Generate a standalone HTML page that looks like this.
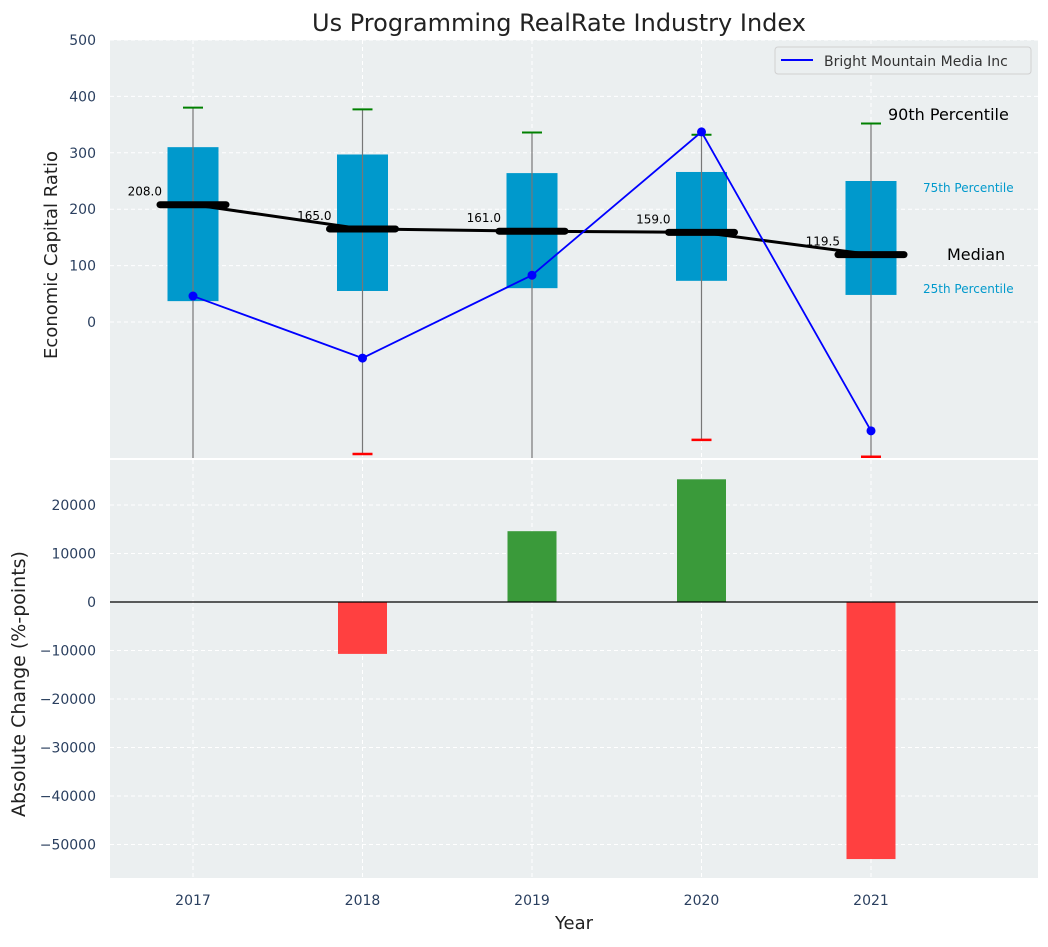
<!DOCTYPE html>
<html><head><meta charset="utf-8"><style>
body{margin:0;background:#fff;font-family:"Liberation Sans","DejaVu Sans",sans-serif}
svg text{font-family:"DejaVu Sans","Liberation Sans",sans-serif}
</style></head><body>
<svg id="c" width="1048" height="942"></svg>
<script>
const years=["2017","2018","2019","2020","2021"];
const q1=[37,55,60,73,48];
const q3=[310,297,264,266,250];
const medians=[208,165,161,159,119.5];
const p90=[380,377,336,332,352];
const p10=[-300,-234,-300,-209,-239];
const company=[46,-64,83,337,-193];
const changes=[0,-10700,14600,25300,-53000];
const topTicks=[0,100,200,300,400,500];
const botTicks=[-50000,-40000,-30000,-20000,-10000,0,10000,20000];

const svg=document.getElementById('c');const NS='http://www.w3.org/2000/svg';
function el(t,a,p){const e=document.createElementNS(NS,t);for(const k in a)e.setAttribute(k,a[k]);(p||svg).appendChild(e);return e;}
const L=110,R=1038;
const x=i=>193+i*169.5;
const yT=v=>322-v*0.564;
const yB=v=>602-v*0.00485;
const T0=40,T1=458,B0=460,B1=878;
let r=el('rect',{x:L,y:T0,width:R-L,height:T1-T0,fill:'#ebeff0'});

r=el('rect',{x:L,y:B0,width:R-L,height:B1-B0,fill:'#ebeff0'});

const clipT=el('clipPath',{id:'ct'});el('rect',{x:L,y:T0,width:R-L,height:T1-T0},clipT);
const gT=el('g',{'clip-path':'url(#ct)'});
topTicks.forEach(v=>{el('line',{x1:L,x2:R,y1:yT(v),y2:yT(v),stroke:'#fff','stroke-dasharray':'4,3'},gT);
 const t=el('text',{x:L-14,y:yT(v)+5,'text-anchor':'end','font-size':14,fill:'#2a3f5f'});t.textContent=v;
 });
botTicks.forEach(v=>{el('line',{x1:L,x2:R,y1:yB(v),y2:yB(v),stroke:'#fff','stroke-dasharray':'4,3'});
 const t=el('text',{x:L-14,y:yB(v)+5,'text-anchor':'end','font-size':14,fill:'#2a3f5f'});t.textContent=v<0?'\u2212'+(-v):v;
 });
years.forEach((yr,i)=>{
 el('line',{x1:x(i),x2:x(i),y1:T0,y2:T1,stroke:'#fff','stroke-dasharray':'4,3'},gT);
 el('line',{x1:x(i),x2:x(i),y1:B0,y2:B1,stroke:'#fff','stroke-dasharray':'4,3'});
 const t=el('text',{x:x(i),y:905,'text-anchor':'middle','font-size':14,fill:'#2a3f5f'});t.textContent=yr;
 
});
years.forEach((yr,i)=>{
 const b=el('rect',{x:x(i)-25.5,y:yT(q3[i]),width:51,height:yT(q1[i])-yT(q3[i]),fill:'#0099cc'},gT);
 
 el('line',{x1:x(i),x2:x(i),y1:yT(p90[i]),y2:yT(p10[i]),stroke:'#777','stroke-width':1.2},gT);
 el('line',{x1:x(i)-10,x2:x(i)+10,y1:yT(p90[i]),y2:yT(p90[i]),stroke:'green','stroke-width':2},gT);
 el('line',{x1:x(i)-10,x2:x(i)+10,y1:yT(p10[i]),y2:yT(p10[i]),stroke:'red','stroke-width':2.5},gT);
});
el('polyline',{points:medians.map((m,i)=>x(i)+','+yT(m)).join(' '),fill:'none',stroke:'#000','stroke-width':3},gT);
medians.forEach((m,i)=>{
 const l=el('line',{x1:x(i)-33,x2:x(i)+33,y1:yT(m),y2:yT(m),stroke:'#000','stroke-width':7,'stroke-linecap':'round'},gT);
 
 const t=el('text',{x:x(i)-31,y:yT(m)-9,'text-anchor':'end','font-size':12,fill:'#000'},gT);t.textContent=m.toFixed(1);
 
});
const pl=el('polyline',{points:company.map((c,i)=>x(i)+','+yT(c)).join(' '),fill:'none',stroke:'#0000ff','stroke-width':1.8},gT);

company.forEach((c,i)=>{const p=el('circle',{cx:x(i),cy:yT(c),r:4.5,fill:'#0000ff'},gT);
 });
const ann=[['90th Percentile',888,120,16,'#000','start'],['75th Percentile',923,192,12,'#0099cc','start'],['Median',947,260,16,'#000','start'],['25th Percentile',923,293,12,'#0099cc','start']];
ann.forEach(a=>{const t=el('text',{x:a[1],y:a[2],'font-size':a[3],fill:a[4]});t.textContent=a[0];
 });
const lg=el('g',{});
el('rect',{x:775,y:47,width:256,height:27,rx:3,fill:'#ebeff0',stroke:'#d0d0d0'},lg);
el('line',{x1:781,x2:813,y1:60,y2:60,stroke:'#0000ff','stroke-width':2},lg);
let t=el('text',{x:824,y:66,'font-size':14,fill:'#333'},lg);t.textContent='Bright Mountain Media Inc';
changes.forEach((c,i)=>{if(c===0)return;
 const b=el('rect',{x:x(i)-24.5,y:Math.min(yB(c),yB(0)),width:49,height:Math.abs(yB(c)-yB(0)),fill:c>0?'#3a9a3a':'#ff4040'});
 });
el('line',{x1:L,x2:R,y1:yB(0),y2:yB(0),stroke:'#000','stroke-width':1.2});
t=el('text',{x:559,y:31,'text-anchor':'middle','font-size':24,fill:'#222'});t.textContent='Us Programming RealRate Industry Index';

t=el('text',{x:0,y:0,'text-anchor':'middle','font-size':18,fill:'#222',transform:'translate(57,255) rotate(-90)'});t.textContent='Economic Capital Ratio';

t=el('text',{x:0,y:0,'text-anchor':'middle','font-size':19,fill:'#222',transform:'translate(25,684) rotate(-90)'});t.textContent='Absolute Change (%-points)';

t=el('text',{x:574,y:929,'text-anchor':'middle','font-size':18,fill:'#222'});t.textContent='Year';

</script>
</body></html>
